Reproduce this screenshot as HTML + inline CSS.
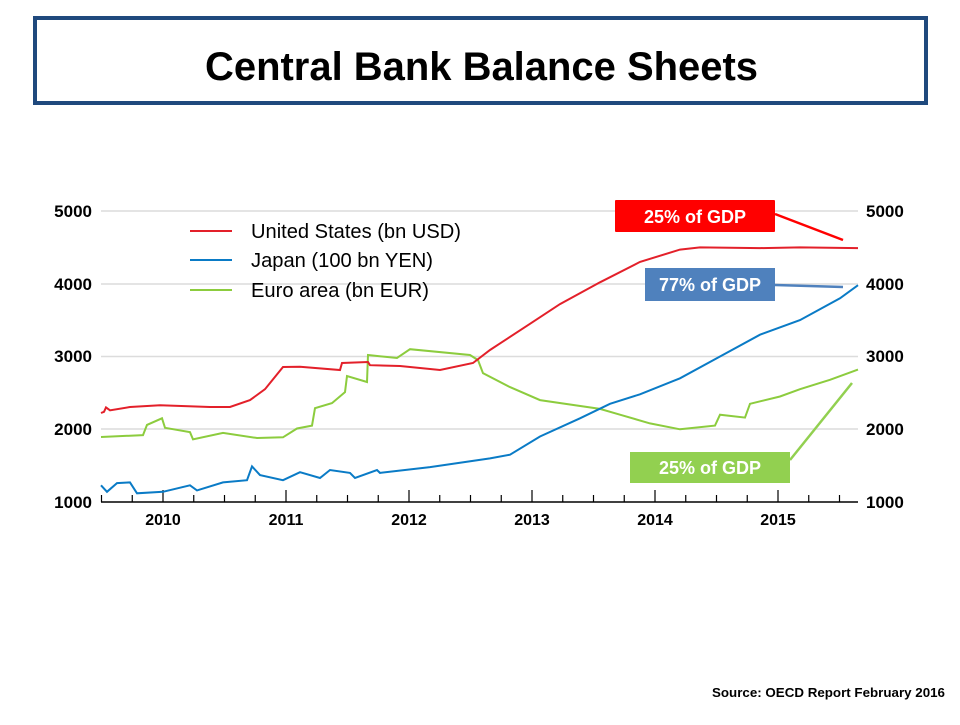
<!DOCTYPE html>
<html><head><meta charset="utf-8"><style>
body{margin:0;background:#fff;width:960px;height:720px;overflow:hidden;font-family:"Liberation Sans",sans-serif}
</style></head><body>
<svg id="s" width="960" height="720" xmlns="http://www.w3.org/2000/svg" font-family="Liberation Sans, sans-serif">
<rect x="35" y="18" width="891" height="85" fill="#fff" stroke="#1f497d" stroke-width="4"/>
<text x="205" y="80" font-size="40" font-weight="bold" fill="#000" textLength="553" lengthAdjust="spacingAndGlyphs">Central Bank Balance Sheets</text>
<g stroke="#dcdcdc" stroke-width="1.5">
<line x1="101" x2="858" y1="211" y2="211"/><line x1="101" x2="858" y1="284" y2="284"/>
<line x1="101" x2="858" y1="356.5" y2="356.5"/><line x1="101" x2="858" y1="429" y2="429"/>
</g>
<line x1="101" x2="858" y1="502" y2="502" stroke="#000" stroke-width="1.5"/>
<g id="ticks" stroke="#000" stroke-width="1.2"></g>
<g font-size="17" font-weight="bold" fill="#000">
<text x="92" y="217" text-anchor="end">5000</text><text x="92" y="290" text-anchor="end">4000</text>
<text x="92" y="362" text-anchor="end">3000</text><text x="92" y="435" text-anchor="end">2000</text>
<text x="92" y="508" text-anchor="end">1000</text>
<text x="866" y="217">5000</text><text x="866" y="290">4000</text><text x="866" y="362">3000</text>
<text x="866" y="435">2000</text><text x="866" y="508">1000</text>
</g>
<g font-size="16" font-weight="bold" text-anchor="middle">
<text x="163" y="525">2010</text><text x="286" y="525">2011</text><text x="409" y="525">2012</text>
<text x="532" y="525">2013</text><text x="655" y="525">2014</text><text x="778" y="525">2015</text>
</g>
<g stroke-width="2">
<line x1="190" x2="232" y1="231" y2="231" stroke="#e3202a"/>
<line x1="190" x2="232" y1="260" y2="260" stroke="#0a7bc6"/>
<line x1="190" x2="232" y1="290" y2="290" stroke="#8ccc3e"/>
</g>
<g font-size="20" fill="#000">
<text x="251" y="238" textLength="210" lengthAdjust="spacingAndGlyphs">United States (bn USD)</text>
<text x="251" y="267" textLength="182" lengthAdjust="spacingAndGlyphs">Japan (100 bn YEN)</text>
<text x="251" y="297" textLength="178" lengthAdjust="spacingAndGlyphs">Euro area (bn EUR)</text>
</g>
<polyline id="g" fill="none" stroke="#8ccc3e" stroke-width="2"/>
<polyline id="r" fill="none" stroke="#e3202a" stroke-width="2"/>
<polyline id="b" fill="none" stroke="#0a7bc6" stroke-width="2"/>
<rect x="615" y="200" width="160" height="32" fill="#ff0000" rx="1"/>
<text x="695" y="223" text-anchor="middle" font-size="18" font-weight="bold" fill="#fff">25% of GDP</text>
<line x1="775" y1="214" x2="843" y2="240" stroke="#ff0000" stroke-width="2.5"/>
<rect x="645" y="268" width="130" height="33" fill="#4f81bd"/>
<text x="710" y="291" text-anchor="middle" font-size="18" font-weight="bold" fill="#fff">77% of GDP</text>
<line x1="775" y1="285" x2="843" y2="287" stroke="#4f81bd" stroke-width="2.5"/>
<rect x="630" y="452" width="160" height="31" fill="#92d050"/>
<text x="710" y="474" text-anchor="middle" font-size="18" font-weight="bold" fill="#fff">25% of GDP</text>
<line x1="790" y1="460" x2="852" y2="383" stroke="#92d050" stroke-width="2.5"/>
<text x="712" y="697" font-size="13" font-weight="bold" fill="#000" textLength="233" lengthAdjust="spacingAndGlyphs">Source:  OECD Report February 2016</text>
</svg>
<script>
function Y(v){return 502-(v-1000)*0.07275;}
function P(id,pts){var s=[];for(var i=0;i<pts.length;i++){s.push(pts[i][0]+','+Y(pts[i][1]).toFixed(1));}document.getElementById(id).setAttribute('points',s.join(' '));}
P('r',[[101,2223],[104,2240],[106,2300],[110,2260],[130,2306],[160,2330],[210,2306],[230,2306],[250,2400],[265,2550],[283,2855],[300,2860],[340,2815],[342,2910],[368,2925],[370,2880],[400,2870],[440,2815],[473,2910],[490,3090],[500,3180],[530,3450],[560,3720],[600,4020],[640,4300],[680,4470],[700,4500],[760,4490],[800,4500],[858,4490]]);
P('g',[[101,1893],[143,1920],[147,2060],[162,2150],[165,2020],[190,1960],[193,1860],[223,1950],[257,1880],[283,1890],[297,2010],[312,2050],[315,2290],[332,2360],[345,2510],[347,2730],[367,2650],[368,3020],[397,2980],[410,3100],[470,3020],[478,2950],[483,2770],[510,2580],[540,2400],[600,2280],[620,2200],[650,2080],[680,2000],[715,2050],[720,2200],[745,2160],[750,2350],[780,2450],[800,2550],[830,2680],[858,2820]]);
P('b',[[101,1230],[107,1140],[117,1260],[130,1270],[137,1120],[163,1140],[190,1230],[197,1160],[223,1270],[247,1300],[252,1490],[260,1370],[283,1300],[300,1410],[320,1330],[330,1440],[350,1400],[355,1330],[377,1440],[380,1400],[430,1480],[490,1600],[510,1650],[540,1900],[580,2150],[610,2350],[640,2480],[680,2700],[720,3000],[760,3300],[800,3500],[840,3800],[858,3980]]);
var t=document.getElementById('ticks'),h='';
for(var k=-2;k<=26;k++){var x=163+k*30.75;if(x<101||x>858)continue;var big=(k%4==0);h+='<line x1="'+x+'" x2="'+x+'" y1="502" y2="'+(big?490:495)+'"/>';}
t.innerHTML=h;
</script>
</body></html>
